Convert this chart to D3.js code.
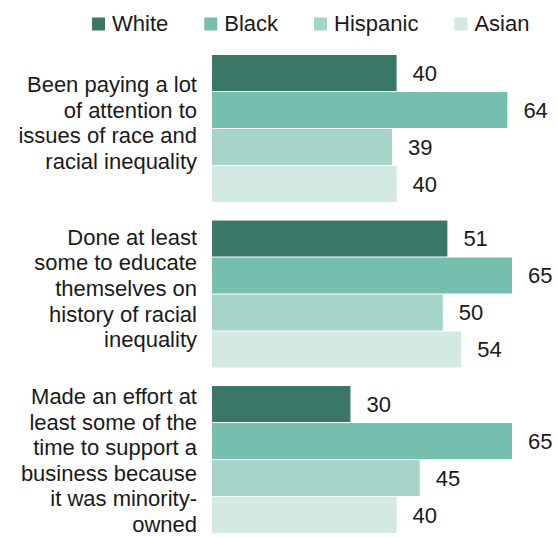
<!DOCTYPE html>
<html>
<head>
<meta charset="utf-8">
<script src="https://cdn.jsdelivr.net/npm/d3@7"></script>
<style>
  html, body { margin: 0; padding: 0; background: #fff; }
  svg { display: block; }
  text { font-family: "Liberation Sans", Arial, sans-serif; fill: #1a1a1a; }
</style>
</head>
<body>
<svg id="chart" width="558" height="537"></svg>
<script>
const series = ["White", "Black", "Hispanic", "Asian"];
const colors = ["#3a7767", "#76bfae", "#a6d4c9", "#d2e9e4"];
const categories = [
  ["Been paying a lot", "of attention to", "issues of race and", "racial inequality"],
  ["Done at least", "some to educate", "themselves on", "history of racial", "inequality"],
  ["Made an effort at", "least some of the", "time to support a", "business because", "it was minority-", "owned"]
];
const whiteVals = [40, 51, 30];
const blackVals = [64, 65, 65];
const hispanicVals = [39, 50, 45];
const asianVals = [40, 54, 40];
const valuesBySeries = [whiteVals, blackVals, hispanicVals, asianVals];

const svg = d3.select("#chart");
const fontSize = 22;

const x = d3.scaleLinear().domain([0, 65]).range([212, 512]);
const y = d3.scaleBand().domain(d3.range(categories.length)).range([55, 534]).paddingInner(0.106).paddingOuter(0);
const ySub = d3.scaleBand().domain(series).range([0, y.bandwidth()]);

const groups = svg.selectAll("g.grp").data(categories).join("g")
  .attr("class", "grp")
  .attr("transform", (d, i) => `translate(0,${y(i)})`);

groups.each(function(lines, gi) {
  const g = d3.select(this);
  series.forEach((s, si) => {
    const v = valuesBySeries[si][gi];
    g.append("rect")
      .attr("x", x(0))
      .attr("y", ySub(s))
      .attr("width", x(v) - x(0))
      .attr("height", ySub.bandwidth() - 1)
      .attr("fill", colors[si]);
    g.append("text")
      .attr("x", x(v) + 16)
      .attr("y", ySub(s) + ySub.bandwidth() / 2 + 7.5)
      .attr("font-size", fontSize)
      .text(v);
  });
  // category label: centred on the group, but never starting above the group's top
  const lh = 25.6;
  const n = lines.length;
  const mid = y.bandwidth() / 2 + 1.5;
  const first = Math.max(mid - (n - 1) * lh / 2, 18);
  const t = g.append("text")
    .attr("text-anchor", "end")
    .attr("font-size", fontSize);
  lines.forEach((ln, li) => {
    t.append("tspan").attr("x", 197).attr("y", first + li * lh).text(ln);
  });
});

// legend
let lx = 92;
series.forEach((s, si) => {
  svg.append("rect").attr("x", lx).attr("y", 17.5).attr("width", 13).attr("height", 13).attr("fill", colors[si]);
  const t = svg.append("text").attr("x", lx + 20).attr("y", 31).attr("font-size", fontSize).text(s);
  lx = lx + 20 + t.node().getComputedTextLength() + 36;
});
</script>
</body>
</html>
